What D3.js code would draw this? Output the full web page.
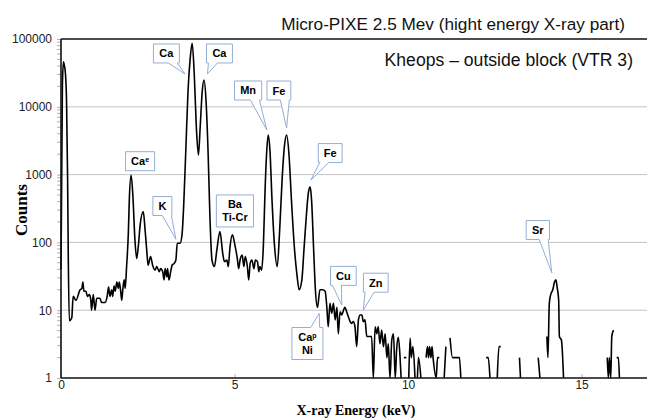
<!DOCTYPE html>
<html>
<head>
<meta charset="utf-8">
<script src="https://cdn.jsdelivr.net/npm/d3@7"></script>
<style>
  html, body { margin: 0; padding: 0; background: #fff; }
  #chart { width: 647px; height: 419px; }
  text { font-family: Arial, "Liberation Sans", sans-serif; }
  .axis-title { font-family: "Times New Roman", "Liberation Serif", serif; font-weight: bold; font-size: 14px; }
  .callout text { font-weight: bold; font-size: 11px; }
</style>
</head>
<body>
<div id="chart"></div>
<script>
// spectrum (null = no counts, line breaks)
const energyKeV = [
  0.00, 0.04, 0.07, 0.10, 0.13, 0.16, 0.19, 0.21, 0.24, 0.31,
  0.35, 0.43, 0.55, 0.60, 0.63, 0.66, 0.72, 0.76, 0.82, 0.86,
  0.88, 0.93, 0.98, 1.03, 1.12, 1.17, 1.27, 1.33, 1.37, 1.41,
  1.46, 1.49, 1.53, 1.56, 1.61, 1.65, 1.68, 1.72, 1.75, 1.78,
  1.82, 1.85, 1.89, 1.94, 1.97, 2.02, 2.07, 2.13, 2.18, 2.23,
  2.28, 2.37, 2.42, 2.47, 2.51, 2.58, 2.64, 2.71, 2.76, 2.83,
  2.87, 2.93, 2.97, 3.00, 3.05, 3.07, 3.11, 3.16, 3.20, 3.26,
  3.31, 3.35, 3.43, 3.49, 3.54, 3.60, 3.66, 3.72, 3.78, 3.84,
  3.90, 3.96, 4.01, 4.07, 4.12, 4.18, 4.24, 4.29, 4.35, 4.42,
  4.49, 4.58, 4.66, 4.71, 4.78, 4.82, 4.87, 4.94, 5.01, 5.08,
  5.12, 5.16, 5.22, 5.27, 5.31, 5.37, 5.41, 5.45, 5.50, 5.56,
  5.60, 5.66, 5.70, 5.73, 5.78, 5.83, 5.88, 5.93, 5.97, 6.02,
  6.08, 6.15, 6.23, 6.30, 6.37, 6.44, 6.50, 6.57, 6.64, 6.73,
  6.80, 6.86, 6.94, 7.00, 7.07, 7.13, 7.18, 7.22, 7.28, 7.33,
  7.39, 7.46, 7.54, 7.61, 7.66, 7.70, 7.75, 7.80, 7.85, 7.90,
  7.95, 7.99, 8.04, 8.09, 8.14, 8.18, 8.23, 8.28, 8.33, 8.38,
  8.42, 8.47, 8.52, 8.57, 8.62, 8.67, 8.71, 8.76, 8.81, 8.88,
  8.95, 9.00, 9.05, 9.10, 9.14, 9.19, 9.24, 9.29, 9.34, 9.39,
  9.43, 9.48, 9.53, 9.58, 9.63, 9.67, 9.72, 9.77, 9.80, 9.84,
  9.88, 9.95, 9.99, 10.02, 10.06, 10.09, 10.14, 10.20, 10.24, 10.27,
  10.30, 10.37, 10.45, 10.52, 10.56, 10.59, 10.62, 10.66, 10.69, 10.72,
  10.81, 10.85, 10.90, 10.95, 11.04, 11.09, 11.15, 11.21, 11.28, 11.48,
  11.52, 11.60, 12.25, 12.31, 12.36, 12.45, 12.57, 12.62, 12.67, 12.75,
  13.21, 13.24, 13.40, 13.75, 13.80, 13.90, 14.00, 14.03, 14.07, 14.11,
  14.17, 14.22, 14.26, 14.30, 14.34, 14.36, 14.42, 14.48, 14.60, 15.74,
  15.77, 15.80, 15.84, 15.87, 15.92, 15.96, 16.01, 16.06, 16.09, 16.20
]

const counts = [
  40, 20000, 46000, 40000, 30000, 12000, 900, 60, 7, 7.7,
  16, 14, 20, 21, 26, 19, 19, 16, 17, 14,
  10, 17, 10, 15, 15, 13, 13, 16, 22, 16,
  20, 16, 23, 19, 26, 21, 26, 19, 14, 20,
  28, 21, 44, 135, 450, 980, 500, 110, 58, 90,
  180, 285, 160, 77, 46, 62, 46, 39, 44, 37,
  41, 37, 28, 41, 31, 41, 28, 37, 46, 49,
  55, 97, 97, 135, 400, 2600, 17000, 50000, 86500, 30000,
  5000, 1950, 5000, 17000, 24800, 12000, 2000, 250, 55, 44,
  77, 144, 69, 52, 55, 44, 86, 129, 92, 58,
  41, 55, 65, 44, 62, 44, 28, 49, 55, 41,
  55, 52, 37, 44, 39, 86, 590, 2300, 3840, 2300,
  420, 92, 44, 150, 830, 2700, 3840, 1950, 420, 77,
  33, 20, 28, 77, 250, 550, 660, 420, 77, 20,
  11, 20, 20, 19, 11, 5.7, 12.6, 9, 12.6, 7.2,
  11, 4.5, 9.5, 8.5, 10, 11, 9.5, 8, 6.8, 6.4,
  6.8, 5.7, 2.9, 7.2, 8.5, 8.5, 6.8, 7.2, 4.1, 4.1,
  4.1, 1, 5.7, 4.5, 5.7, 3.2, 5.1, 2.9, 4.5, 2,
  3.2, 1, 3.6, 4.5, 1, 2.6, 4, 2, 1, null,
  2, 2, null, 1, 3.9, 2, 2.9, 1, null, 1,
  2, 1, null, 2, 2.9, 2, 2.9, 2, 2.9, 2,
  1, 2, 2, null, 1, 2.9, null, 3.9, 2, 2,
  1, null, 2, 2, 1, null, 1, 2.9, 2.9, null,
  2, 1, null, 2, 1, null, 4.1, 2, 12.6, 17,
  20, 26, 28, 21, 14, 4.1, 3.6, 1, null, 2,
  1, 2, 1, 4.1, 5.1, null, 2, 2, 1, null
]

const xTicks = [0, 5, 10, 15]
const yTicks = [1, 10, 100, 1000, 10000, 100000]

const chartTitle = "Micro-PIXE 2.5 Mev (hight energy X-ray part)"
const chartSubtitle = "Kheops \u2013 outside block (VTR 3)"
const xTitle = "X-ray Energy (keV)"
const yTitle = "Counts"

// peak labels: text lines ("^" starts a superscript) and the point they name
const peakLabelLines = [
  ["Ca"], ["Ca"], ["Mn"], ["Fe"], ["Ca^e"], ["K"],
  ["Ba", "Ti-Cr"], ["Fe"], ["Ca^p", "Ni"], ["Cu"], ["Zn"], ["Sr"]
]
const peakLabelEnergy = [3.57, 4.22, 5.93, 6.50, 2.02, 3.31, 4.58, 7.20, 7.44, 8.09, 8.71, 14.14]
const peakLabelCounts = [30500, 30500, 4550, 4860, 980, 111, 144, 830, 9, 11.9, 10, 35.7]

// where each callout box sits relative to its point (pixels), and whether it has a pointer
const calloutLayout = [
  { dx: -18.5, dy: -20.5, tail: true },
  { dx: 12, dy: -20.5, tail: true },
  { dx: -18.7, dy: -39.5, tail: true },
  { dx: -7.7, dy: -37.5, tail: true },
  { dx: 9, dy: -14, tail: false },
  { dx: -13.5, dy: -33.3, tail: true },
  { dx: 15, dy: -20.7, tail: false },
  { dx: 19.3, dy: -27, tail: true },
  { dx: -11.8, dy: 30.2, tail: true, w: 31 },
  { dx: 1.6, dy: -29.2, tail: true },
  { dx: 12.5, dy: -27.5, tail: true },
  { dx: -13.9, dy: -42.7, tail: true }
]

class SpectrumChart {
  constructor(wrapper) {
    this.wrapper = d3.select(wrapper)
    this.dv = {}
    this.dimensions = {
      width: 647,
      height: 419,
      margin: { top: 39, right: -4, bottom: 41, left: 61 }
    }
    this.dimensions.boundedWidth = this.dimensions.width
      - this.dimensions.margin.left
      - this.dimensions.margin.right
    this.dimensions.boundedHeight = this.dimensions.height
      - this.dimensions.margin.top
      - this.dimensions.margin.bottom
  }

  createDataVis() {
    this.setScales()
    this.initialiseDataVis()
    this.drawDataVis()
  }

  setScales() {
    const m = this.dimensions.margin
    this.dv.xScale = d3.scaleLinear()
      .domain([0, 17])
      .range([m.left, m.left + this.dimensions.boundedWidth])
    this.dv.yScale = d3.scaleLog()
      .domain([1, 100000])
      .range([m.top + this.dimensions.boundedHeight, m.top])
  }

  initialiseDataVis() {
    this.dv.svg = this.wrapper
      .append("svg")
        .attr("width", this.dimensions.width)
        .attr("height", this.dimensions.height)
    this.dv.svg.append("rect")
      .attr("width", this.dimensions.width)
      .attr("height", this.dimensions.height)
      .attr("fill", "#fff")
  }

  drawDataVis() {
    const svg = this.dv.svg
    const x = this.dv.xScale
    const y = this.dv.yScale
    const W = this.dimensions.width
    const left = this.dimensions.margin.left
    const bottom = y(1)

    // gridlines
    svg.append("g")
      .selectAll("line")
      .data(yTicks.slice(1, -1))
      .enter().append("line")
      .attr("x1", left)
      .attr("x2", W)
      .attr("y1", d => y(d))
      .attr("y2", d => y(d))
      .attr("stroke", "#c4c4c4")
      .attr("stroke-width", 1)

    // top frame line
    svg.append("line")
      .attr("x1", left).attr("x2", W)
      .attr("y1", y(100000)).attr("y2", y(100000))
      .attr("stroke", "#111").attr("stroke-width", 1.6)

    // minor log ticks on the left axis
    const minor = []
    yTicks.slice(0, -1).forEach(t => {
      for (let k = 2; k <= 9; k++) minor.push(t * k)
    })
    svg.append("g")
      .selectAll("line")
      .data(minor)
      .enter().append("line")
      .attr("x1", left - 4)
      .attr("x2", left)
      .attr("y1", d => y(d))
      .attr("y2", d => y(d))
      .attr("stroke", "#b0b0b0")

    // y axis
    const yAxis = svg.append("g")
      .attr("transform", `translate(${left},0)`)
      .call(d3.axisLeft(y).tickValues(yTicks).tickFormat(d3.format("d"))
        .tickSize(4).tickPadding(5))
    yAxis.select(".domain").remove()
    yAxis.selectAll(".tick line").attr("stroke", "#b0b0b0")
    yAxis.selectAll("text")
      .attr("font-size", 12)
      .attr("fill", "#222")
      .style("font-family", "Arial, 'Liberation Sans', sans-serif")

    // x axis
    const xAxis = svg.append("g")
      .attr("transform", `translate(0,${bottom})`)
      .call(d3.axisBottom(x).tickValues(xTicks).tickSizeInner(-4).tickSizeOuter(0).tickPadding(2))
    xAxis.select(".domain").remove()
    xAxis.selectAll(".tick line").attr("stroke", "#b0b0b0")
    xAxis.selectAll("text")
      .attr("font-size", 12)
      .attr("fill", "#222")
      .style("font-family", "Arial, 'Liberation Sans', sans-serif")

    // spectrum
    const points = energyKeV.map((e, i) => ({ e: e, c: counts[i] }))
    const line = d3.line()
      .defined(d => d.c !== null)
      .x(d => x(d.e))
      .y(d => y(d.c))
      .curve(d3.curveMonotoneX)
    svg.append("path")
      .datum(points)
      .attr("d", line)
      .attr("fill", "none")
      .attr("stroke", "#000")
      .attr("stroke-width", 1.6)
      .attr("stroke-linejoin", "round")

    // axis lines
    svg.append("line")
      .attr("x1", left).attr("x2", left)
      .attr("y1", y(100000)).attr("y2", bottom)
      .attr("stroke", "#111").attr("stroke-width", 1.6)
    svg.append("line")
      .attr("x1", left).attr("x2", W)
      .attr("y1", bottom).attr("y2", bottom)
      .attr("stroke", "#111").attr("stroke-width", 1.6)

    // titles
    svg.append("text")
      .attr("x", 625).attr("y", 30)
      .attr("text-anchor", "end")
      .attr("font-size", 17.2)
      .attr("fill", "#111")
      .text(chartTitle)
    svg.append("text")
      .attr("x", 633).attr("y", 66)
      .attr("text-anchor", "end")
      .attr("font-size", 17.6)
      .attr("fill", "#111")
      .text(chartSubtitle)
    svg.append("text")
      .attr("class", "axis-title")
      .attr("x", 356).attr("y", 415)
      .attr("text-anchor", "middle")
      .text(xTitle)
    svg.append("text")
      .attr("class", "axis-title")
      .attr("transform", "translate(27,210) rotate(-90)")
      .attr("text-anchor", "middle")
      .style("font-size", "17px")
      .text(yTitle)

    this.drawCallouts()
  }

  drawCallouts() {
    const svg = this.dv.svg
    const x = this.dv.xScale
    const y = this.dv.yScale
    const pad = 5.5
    const lineH = 13

    peakLabelLines.forEach((lines, i) => {
      const lay = calloutLayout[i]
      const tx = x(peakLabelEnergy[i])
      const ty = y(peakLabelCounts[i])
      const cx = tx + lay.dx
      const cy = ty + lay.dy
      const g = svg.append("g").attr("class", "callout")

      const path = g.append("path")
      const label = g.append("text").attr("text-anchor", "middle").attr("fill", "#000")
      lines.forEach((ln, j) => {
        const parts = ln.split("^")
        label.append("tspan")
          .attr("x", cx)
          .attr("y", cy + 4 + (j - (lines.length - 1) / 2) * lineH)
          .text(parts[0])
        if (parts[1]) {
          label.append("tspan")
            .attr("font-size", 7)
            .attr("dy", -3.5)
            .text(parts[1])
          label.append("tspan").attr("dy", 3.5).text("")
        }
      })
      const tw = label.node().getBBox().width
      const w = lay.w || tw + 2 * pad
      const h = lines.length * lineH + 6
      const x0 = cx - w / 2, x1 = cx + w / 2
      const y0 = cy - h / 2, y1 = cy + h / 2

      let d
      if (!lay.tail) {
        d = `M${x0},${y0}H${x1}V${y1}H${x0}Z`
      } else {
        const bc = Math.max(x0 + 5, Math.min(x1 - 5, cx - Math.sign(lay.dx) * w / 4))
        const b0 = bc - 4.5, b1 = bc + 4.5
        if (lay.dy < 0) {
          d = `M${x0},${y0}H${x1}V${y1}H${b1}L${tx},${ty}L${b0},${y1}H${x0}Z`
        } else {
          d = `M${x0},${y0}H${b0}L${tx},${ty}L${b1},${y0}H${x1}V${y1}H${x0}Z`
        }
      }
      path.attr("d", d)
        .attr("fill", "#fff")
        .attr("stroke", "#93aed3")
        .attr("stroke-width", 1)
    })
  }
}

const chart = new SpectrumChart("#chart")
chart.createDataVis()
</script>
</body>
</html>
